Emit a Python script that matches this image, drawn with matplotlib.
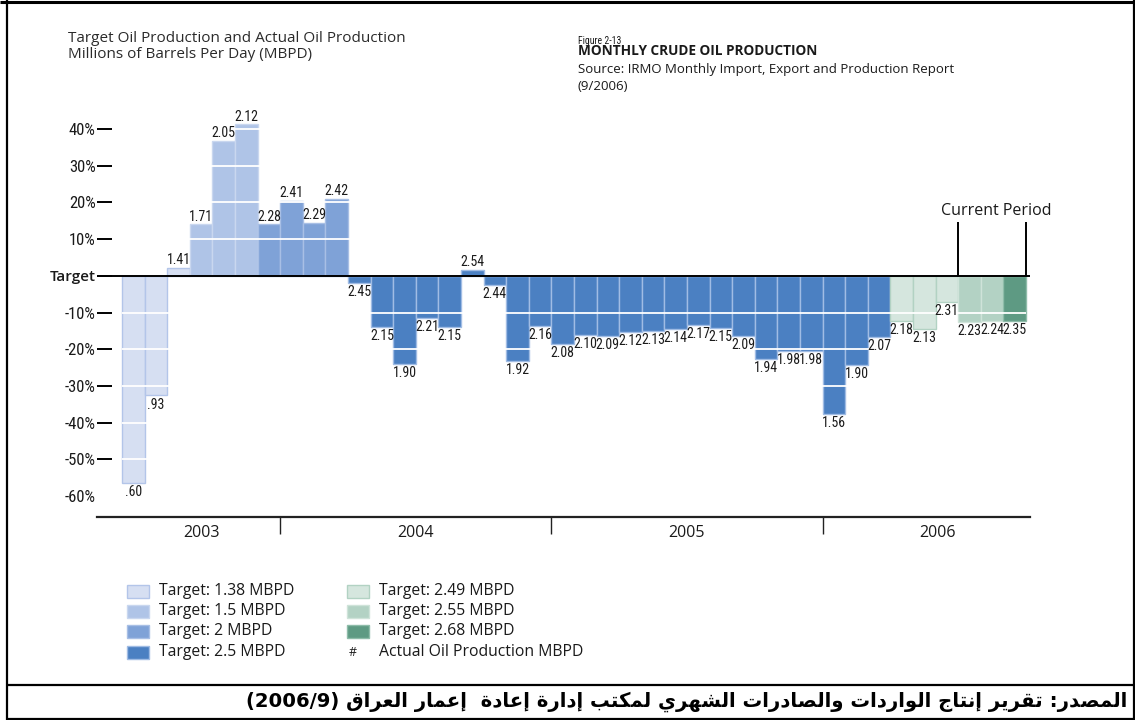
import numpy as np
import pandas as pd
import matplotlib
matplotlib.use("Agg")
import matplotlib.pyplot as plt
from matplotlib.patches import Rectangle

# ---------------- data ----------------
years = ["2003", "2004", "2005", "2006"]
months_per_year = [7, 12, 12, 9]          # Jun 2003 .. Sep 2006
months = pd.date_range("2003-06-01", periods=sum(months_per_year), freq="MS")

actual = [0.60, 0.93, 1.41, 1.71, 2.05, 2.12, 2.28,
          2.41, 2.29, 2.42, 2.45, 2.15, 1.90, 2.21, 2.15, 2.54, 2.44, 1.92, 2.16,
          2.08, 2.10, 2.09, 2.12, 2.13, 2.14, 2.17, 2.15, 2.09, 1.94, 1.98, 1.98,
          1.56, 1.90, 2.07, 2.18, 2.13, 2.31, 2.23, 2.24, 2.35]

# deviation from target (%) as drawn
deviation = [-56.5, -32.6, 2.2, 14.0, 36.7, 41.3, 14.0,
             20.5, 14.5, 21.0, -2.0, -14.0, -24.0, -11.6, -14.0, 1.6, -2.4, -23.2, -13.6,
             -18.5, -16.2, -16.4, -15.4, -14.9, -14.4, -13.3, -14.2, -16.4, -22.6, -20.5, -20.5,
             -37.7, -24.2, -16.6, -12.4, -14.5, -7.2, -12.5, -12.2, -12.3]

target_levels = ["1.38", "1.5", "2", "2.5", "2.49", "2.55", "2.68"]
target_counts = [3, 3, 4, 24, 3, 2, 1]
target_face = ["#d6dff2", "#afc4e7", "#7fa2d7", "#4b80c2", "#d5e6de", "#b3d2c4", "#5e9a83"]
target_edge = ["#b3c5e9", "#c9d7ef", "#a8bfe5", "#a0bce4", "#b2d2c3", "#cfe3d9", "#8ebca9"]

ytick_vals = [-60, -50, -40, -30, -20, -10, 0, 10, 20, 30, 40]
ytick_labels = ["-60%", "-50%", "-40%", "-30%", "-20%", "-10%", "Target", "10%", "20%", "30%", "40%"]
current_period_len = 3

# ---------------- helpers ----------------
_AR = [('\u0627', 0xFE8D, False), ('\u0623', 0xFE83, False), ('\u0625', 0xFE87, False),
       ('\u0622', 0xFE81, False), ('\u0628', 0xFE8F, True), ('\u0629', 0xFE93, False),
       ('\u062A', 0xFE95, True), ('\u062B', 0xFE99, True), ('\u062C', 0xFE9D, True),
       ('\u062D', 0xFEA1, True), ('\u062E', 0xFEA5, True), ('\u062F', 0xFEA9, False),
       ('\u0630', 0xFEAB, False), ('\u0631', 0xFEAD, False), ('\u0632', 0xFEAF, False),
       ('\u0633', 0xFEB1, True), ('\u0634', 0xFEB5, True), ('\u0635', 0xFEB9, True),
       ('\u0636', 0xFEBD, True), ('\u0637', 0xFEC1, True), ('\u0638', 0xFEC5, True),
       ('\u0639', 0xFEC9, True), ('\u063A', 0xFECD, True), ('\u0641', 0xFED1, True),
       ('\u0642', 0xFED5, True), ('\u0643', 0xFED9, True), ('\u0644', 0xFEDD, True),
       ('\u0645', 0xFEE1, True), ('\u0646', 0xFEE5, True), ('\u0647', 0xFEE9, True),
       ('\u0648', 0xFEED, False), ('\u0649', 0xFEEF, False), ('\u064A', 0xFEF1, True)]
AR_FORMS = {c: (s, d) for c, s, d in _AR}
LAM_ALEF = {'\u0622': 0xFEF5, '\u0623': 0xFEF7, '\u0625': 0xFEF9, '\u0627': 0xFEFB}


def shape_arabic(text):
    out = []
    i = 0
    while i < len(text):
        c = text[i]
        prev = text[i - 1] if i > 0 else ''
        join_prev = prev in AR_FORMS and AR_FORMS[prev][1]
        nxt = text[i + 1] if i + 1 < len(text) else ''
        if c == '\u0644' and nxt in LAM_ALEF:
            out.append(chr(LAM_ALEF[nxt] + (1 if join_prev else 0)))
            i += 2
            continue
        if c in AR_FORMS:
            start, dual = AR_FORMS[c]
            join_next = dual and nxt in AR_FORMS
            if join_prev and join_next:
                out.append(chr(start + 3))
            elif join_prev:
                out.append(chr(start + 1))
            elif join_next:
                out.append(chr(start + 2))
            else:
                out.append(chr(start))
        else:
            out.append(c)
        i += 1
    return ''.join(reversed(out))


def fmt(v):
    s = f"{v:.2f}"
    return s[1:] if s.startswith("0") else s


NARROW = ["Roboto Condensed", "Roboto", "DejaVu Sans"]
SANS = ["Open Sans", "DejaVu Sans"]

# ---------------- figure ----------------
W, H = 1135, 720
fig = plt.figure(figsize=(W / 100, H / 100), dpi=100)
fig.patch.set_facecolor("white")

ov = fig.add_axes([0, 0, 1, 1])
ov.set_xlim(0, W)
ov.set_ylim(H, 0)
ov.axis("off")

ax = fig.add_axes([97 / W, 1 - 517 / H, 933 / W, 417 / H])
n = len(actual)
x = np.arange(n)

faces, edges = [], []
for f, e, c in zip(target_face, target_edge, target_counts):
    faces += [f] * c
    edges += [e] * c

ax.bar(x, deviation, width=1.0, align="edge", color=faces, edgecolor=edges,
       linewidth=1.0, zorder=2)

for yv in ytick_vals:
    if yv != 0:
        ax.hlines(yv, 0, n, colors="white", linewidth=1.3, zorder=2.6)

ax.axhline(0, color="black", linewidth=1.4, zorder=3)

for xi, d, v in zip(x, deviation, actual):
    if d >= 0:
        ax.annotate(fmt(v), (xi + 0.5, d), xytext=(0, 0.5), textcoords="offset points",
                    ha="center", va="bottom", fontsize=10, family=NARROW,
                    color="#1a1a1a", zorder=5)
    else:
        ax.annotate(fmt(v), (xi + 0.5, d), xytext=(0, -1.5), textcoords="offset points",
                    ha="center", va="top", fontsize=10, family=NARROW,
                    color="#1a1a1a", zorder=5)

ax.set_xlim(-1.106, 40.18)
ax.set_ylim(-65.7, 47.9)

for s in ["top", "right", "left"]:
    ax.spines[s].set_visible(False)
ax.spines["bottom"].set_linewidth(1.6)
ax.spines["bottom"].set_color("#222222")

ax.set_yticks(ytick_vals)
ax.set_yticklabels(ytick_labels)
ax.tick_params(axis="y", direction="in", length=11, width=1.4, pad=1, color="black")
for t, lab in zip(ax.yaxis.get_major_ticks(), ytick_labels):
    if lab == "Target":
        t.label1.set_fontfamily(SANS)
        t.label1.set_fontweight("semibold")
        t.label1.set_fontsize(11)
    else:
        t.label1.set_fontfamily(NARROW)
        t.label1.set_fontsize(12)
    t.label1.set_color("#1a1a1a")
ax.yaxis.get_major_ticks()[0].tick1line.set_visible(False)

bounds = np.cumsum(months_per_year)[:-1]
ax.set_xticks(bounds)
ax.set_xticklabels([])
ax.tick_params(axis="x", which="major", direction="out", length=12, width=1, color="#222222")
year_label_pos = [3.5, 13.0, 25.0, 36.1]
ax.set_xticks(year_label_pos, minor=True)
ax.set_xticklabels(years, minor=True, fontsize=11.5, family=SANS, color="#1a1a1a")
ax.tick_params(axis="x", which="minor", length=0, pad=6)

cp0 = n - current_period_len
ax.vlines([cp0, n], 0, 14.6, colors="black", linewidth=1.4, zorder=4)
ax.text((cp0 + n) / 2 + 0.2, 15.6, "Current Period", ha="center", va="bottom",
        fontsize=11.5, family=SANS, color="#1a1a1a")
ax.patch.set_visible(False)

# ---------------- titles ----------------
ov.text(68, 38, "Target Oil Production and Actual Oil Production", fontsize=11,
        family=SANS, color="#2a2a2a", va="center", ha="left")
ov.text(68, 55, "Millions of Barrels Per Day (MBPD)", fontsize=11,
        family=SANS, color="#2a2a2a", va="center", ha="left")
ov.text(578, 41, "Figure 2-13", fontsize=7, family=NARROW, color="#1a1a1a",
        va="center", ha="left")
ov.text(578, 51, "MONTHLY CRUDE OIL PRODUCTION", fontsize=9.8, family=SANS,
        fontweight="bold", color="#1a1a1a", va="center", ha="left")
ov.text(578, 70, "Source: IRMO Monthly Import, Export and Production Report",
        fontsize=9.5, family=SANS, color="#1a1a1a", va="center", ha="left")
ov.text(578, 87, "(9/2006)", fontsize=9.5, family=SANS, color="#1a1a1a",
        va="center", ha="left")

# ---------------- legend ----------------
leg_col_x = [127, 347]
leg_rows_y = [591, 611, 631, 652]
entries = [(f"Target: {lv} MBPD", fc, ec) for lv, fc, ec in zip(target_levels, target_face, target_edge)]
for k, (lab, fc, ec) in enumerate(entries):
    col, row = divmod(k, 4)
    px, py = leg_col_x[col], leg_rows_y[row]
    ov.add_patch(Rectangle((px, py - 6.5), 22, 13, facecolor=fc, edgecolor=ec, linewidth=1.0))
    ov.text(px + 32, py, lab, fontsize=11.3, family=SANS, color="#1a1a1a", va="center", ha="left")
ov.text(leg_col_x[1] + 6, leg_rows_y[3], "#", fontsize=9, family=SANS, color="#1a1a1a",
        va="center", ha="center")
ov.text(leg_col_x[1] + 32, leg_rows_y[3], "Actual Oil Production MBPD", fontsize=11.3,
        family=SANS, color="#1a1a1a", va="center", ha="left")

# ---------------- frame + Arabic source ----------------
ov.plot([0, W], [1.5, 1.5], color="black", linewidth=2.2, solid_capstyle="butt")
ov.plot([6.5, 6.5], [0, H], color="black", linewidth=1.6, solid_capstyle="butt")
ov.plot([W - 1.5, W - 1.5], [0, H], color="black", linewidth=1.6, solid_capstyle="butt")
ov.plot([6.5, W], [684.5, 684.5], color="black", linewidth=1.6, solid_capstyle="butt")
ov.plot([6.5, W], [718.5, 718.5], color="black", linewidth=1.6, solid_capstyle="butt")

caption = "المصدر: تقرير إنتاج الواردات والصادرات الشهري لمكتب إدارة إعادة  إعمار العراق"
ov.text(1127, 702, "(2006/9) " + shape_arabic(caption), fontsize=14.1,
        family=["DejaVu Sans"], fontweight="bold", color="black", va="center", ha="right")

fig.savefig("out.png", dpi=100)
